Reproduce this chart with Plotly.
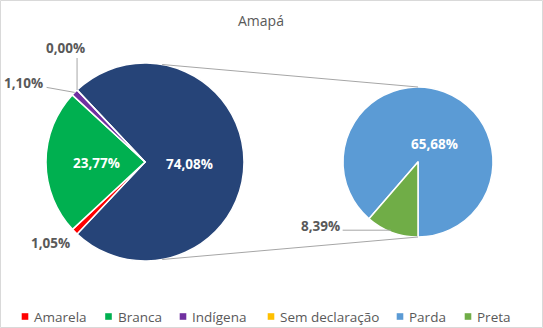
import math
import plotly.graph_objects as go

# ---------------- data ----------------
title = "Amapá"
categories = ["Amarela", "Branca", "Indígena", "Sem declaração", "Parda", "Preta"]
values = [1.05, 23.77, 1.10, 0.00, 65.68, 8.39]
colors = ["#FF0000", "#00B050", "#7030A0", "#FFC000", "#5B9BD5", "#70AD47"]
main_cats = ["Amarela", "Branca", "Indígena", "Sem declaração"]
second_cats = ["Parda", "Preta"]
other_color = "#264478"

# ---------------- layout constants ----------------
W, H = 543, 328
FONT = "Open Sans"
TXT_GRAY = "#595959"
LINE_GRAY = "#A6A6A6"
main_c, main_r = (145, 162), 99
sec_c, sec_r = (418, 162), 75


def px(x):
    return x / W


def py(y):
    return 1 - y / H


def fmt(v):
    return f"{v:.2f}".replace(".", ",") + "%"


val = dict(zip(categories, values))
col = dict(zip(categories, colors))
main_vals = [val[c] for c in main_cats]
other_val = round(100 - sum(main_vals), 2)
sec_vals = [val[c] for c in second_cats]

# main pie: "other" slice centred at 3 o'clock, clockwise
main_labels = ["Outros"] + main_cats
main_values = [other_val] + main_vals
main_total = sum(main_values)
main_rot = 90 - other_val / main_total * 360 / 2
# secondary pie: Preta starts at 6 o'clock
sec_total = sum(sec_vals)
sec_rot = 180 + sec_vals[1] / sec_total * 360


def slice_angles(vals, rot):
    tot = sum(vals)
    a = rot
    out = []
    for v in vals:
        span = v / tot * 360
        out.append((a, a + span, a + span / 2))
        a += span
    return out


def edge(c, r, ang, f=1.0):
    t = math.radians(ang)
    return (c[0] + f * r * math.sin(t), c[1] - f * r * math.cos(t))


main_ang = dict(zip(main_labels, slice_angles(main_values, main_rot)))
sec_ang = dict(zip(second_cats, slice_angles(sec_vals, sec_rot)))

fig = go.Figure()
fig.add_trace(go.Pie(
    labels=main_labels, values=main_values, sort=False, direction="clockwise",
    rotation=main_rot, textinfo="none", hoverinfo="label+value",
    marker=dict(colors=[other_color] + [col[c] for c in main_cats],
                line=dict(color="white", width=1.5)),
    domain=dict(x=[px(main_c[0] - main_r), px(main_c[0] + main_r)],
                y=[py(main_c[1] + main_r), py(main_c[1] - main_r)]),
    showlegend=False,
))
fig.add_trace(go.Pie(
    labels=second_cats, values=sec_vals, sort=False, direction="clockwise",
    rotation=sec_rot, textinfo="none", hoverinfo="label+value",
    marker=dict(colors=[col[c] for c in second_cats],
                line=dict(color="white", width=1.5)),
    domain=dict(x=[px(sec_c[0] - sec_r), px(sec_c[0] + sec_r)],
                y=[py(sec_c[1] + sec_r), py(sec_c[1] - sec_r)]),
    showlegend=False,
))

shapes = []
annotations = []


def line(p0, p1, color=LINE_GRAY, width=1):
    shapes.append(dict(type="line", xref="paper", yref="paper",
                       x0=px(p0[0]), y0=py(p0[1]), x1=px(p1[0]), y1=py(p1[1]),
                       line=dict(color=color, width=width)))


def text(x, y, s, color=TXT_GRAY, size=13.5, bold=False, xanchor="center"):
    annotations.append(dict(x=px(x), y=py(y), xref="paper", yref="paper",
                            text=f"<b>{s}</b>" if bold else s, showarrow=False,
                            xanchor=xanchor, yanchor="middle",
                            font=dict(family=FONT, size=size, color=color)))


# connector lines between pies
line(edge(main_c, main_r, 10), edge(sec_c, sec_r, 0))
line(edge(main_c, main_r, 170), edge(sec_c, sec_r, 180))

# inside labels
p = edge(main_c, main_r, main_ang["Outros"][2], 0.45)
text(p[0], p[1] + 2, fmt(other_val), color="white", bold=True)
p = edge(main_c, main_r, main_ang["Branca"][2], 0.49)
text(p[0], p[1] + 1, fmt(val["Branca"]), color="white", bold=True)
p = edge(sec_c, sec_r, sec_ang["Parda"][2], 0.3)
text(p[0] + 9, p[1] + 3, fmt(val["Parda"]), color="white", bold=True)

# outside labels with leader lines
# Sem declaração (0 %) – vertical leader
e = edge(main_c, main_r, main_ang["Sem declaração"][0])
line(e, (e[0], e[1] - 32))
text(e[0] - 12, e[1] - 42, fmt(val["Sem declaração"]), bold=True)
# Indígena
e = edge(main_c, main_r, main_ang["Indígena"][2])
line(e, (e[0] - 28, e[1] - 5))
text(e[0] - 51, e[1] - 9, fmt(val["Indígena"]), bold=True)
# Amarela
e = edge(main_c, main_r, main_ang["Amarela"][2])
text(e[0] - 24, e[1] + 11, fmt(val["Amarela"]), bold=True)
# Preta
e = edge(sec_c, sec_r, sec_ang["Preta"][2], 0.97)
line((e[0] - 2, e[1]), (e[0] - 50, e[1]))
text(e[0] - 72, e[1] - 4, fmt(val["Preta"]), bold=True)

# title
text(261, 20, title, size=14)

# manual legend
leg_x = [25, 108.5, 183, 271, 400, 468]
leg_y = 316.5
for c, x in zip(categories, leg_x):
    shapes.append(dict(type="rect", xref="paper", yref="paper",
                       x0=px(x - 3.3), x1=px(x + 3.3), y0=py(leg_y + 3.3), y1=py(leg_y - 3.3),
                       fillcolor=col[c], line=dict(width=0)))
    text(x + 7, leg_y, c, size=13.5, xanchor="left")

# chart border
shapes.append(dict(type="rect", xref="paper", yref="paper",
                   x0=px(0.5), y0=py(327.5), x1=px(542.5), y1=py(0.5),
                   line=dict(color="#D9D9D9", width=1)))

fig.update_layout(
    width=W, height=H, margin=dict(l=0, r=0, t=0, b=0),
    paper_bgcolor="white", plot_bgcolor="white",
    shapes=shapes, annotations=annotations, showlegend=False,
    font=dict(family=FONT, color=TXT_GRAY),
)
fig.write_html("out.html")
